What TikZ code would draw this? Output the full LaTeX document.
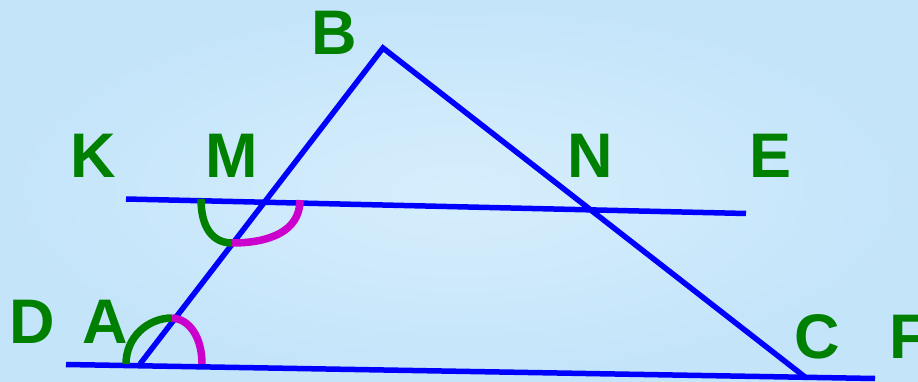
\documentclass[tikz,border=0pt]{standalone}
\usepackage{fontspec}
\setmainfont{Liberation Sans}
\definecolor{bgout}{RGB}{196,228,250}
\definecolor{bgin}{RGB}{214,238,252}
\definecolor{lblue}{RGB}{0,0,255}
\definecolor{lgreen}{RGB}{0,128,0}
\definecolor{lmag}{RGB}{204,0,204}
\begin{document}
\begin{tikzpicture}[x=1pt,y=-1pt,
  lbl/.style={text=lgreen,font=\bfseries\fontsize{63}{63}\selectfont,inner sep=0pt,anchor=base},
  seg/.style={draw=lblue,line width=5.5pt},
  garc/.style={draw=lgreen,line width=7.5pt},
  marc/.style={draw=lmag,line width=7.5pt}]
\shade[inner color=bgin,outer color=bgout] (0,0) rectangle (918,382);
\useasboundingbox (0,0) rectangle (918,382);
% points
\coordinate (A) at (140,364);
\coordinate (B) at (383,48);
\coordinate (C) at (805,377);
\coordinate (K1) at (126,199);
\coordinate (E1) at (746,213.5);
\coordinate (D1) at (66,364.5);
\coordinate (F1) at (875,378.5);
% lines
\draw[seg] (A) -- (B) -- (C);
\draw[seg] (K1) -- (E1);
\draw[seg] (D1) -- (F1);
% angle marks at M
\coordinate (m1) at (201,199);
\coordinate (m2) at (232,243);
\coordinate (m3) at (300,200);
\draw[garc] (m1) .. controls (201,228) and (213,243) .. (m2);
\draw[marc] (m2) .. controls (268,243) and (300,232) .. (m3);
% angle marks at A
\coordinate (a1) at (126,364);
\coordinate (a2) at (172,318);
\coordinate (a3) at (202,364);
\draw[garc] (a1) .. controls (126,337) and (148,318) .. (a2);
\draw[marc] (a2) .. controls (190,319) and (202,338) .. (a3);
% labels
\node[lbl] (lB) at (334,55) {B};
\node[lbl] (lK) at (93.5,177.3) {K};
\node[lbl] (lM) at (231.5,177.3) {M};
\node[lbl] (lN) at (590,177.3) {N};
\node[lbl] (lE) at (771,177.3) {E};
\node[lbl] (lD) at (32.5,343) {D};
\node[lbl] (lA) at (105.5,343) {A};
\node[lbl] (lC) at (817,358.5) {C};
\node[lbl] (lF) at (909,358.5) {F};
\end{tikzpicture}
\end{document}
